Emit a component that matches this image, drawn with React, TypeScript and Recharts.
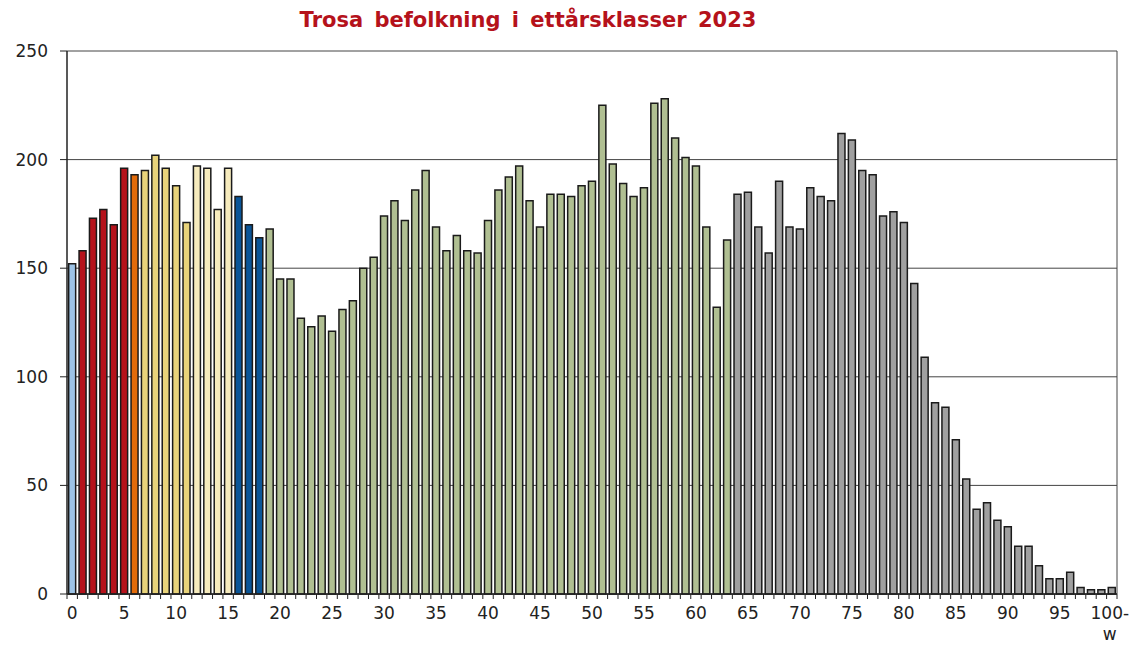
import { BarChart, Bar, Cell, XAxis, YAxis, CartesianGrid } from "recharts";

// Befolkning per ettårsklass, 0 .. 100-w
const population = [
  152, 158, 173, 177, 170, 196, 193, 195, 202, 196,
  188, 171, 197, 196, 177, 196, 183, 170, 164, 168,
  145, 145, 127, 123, 128, 121, 131, 135, 150, 155,
  174, 181, 172, 186, 195, 169, 158, 165, 158, 157,
  172, 186, 192, 197, 181, 169, 184, 184, 183, 188,
  190, 225, 198, 189, 183, 187, 226, 228, 210, 201,
  197, 169, 132, 163, 184, 185, 169, 157, 190, 169,
  168, 187, 183, 181, 212, 209, 195, 193, 174, 176,
  171, 143, 109, 88, 86, 71, 53, 39, 42, 34,
  31, 22, 22, 13, 7, 7, 10, 3, 2, 2,
  3,
];

const ages = population.map((_, i) => (i === 100 ? "100-w" : String(i)));

// åldersgrupper: [första ålder, sista ålder, färg]
const groups: [number, number, string][] = [
  [0, 0, "#9dc3e6"],
  [1, 5, "#b5121b"],
  [6, 6, "#e26b0a"],
  [7, 11, "#e8d37a"],
  [12, 15, "#f6ebbd"],
  [16, 18, "#0a5597"],
  [19, 63, "#b0bf92"],
  [64, 100, "#a0a0a0"],
];

const yTicks = [0, 50, 100, 150, 200, 250];

const data = ages.map((age, i) => ({ age, value: population[i] }));

const colorFor = (i: number) => {
  const g = groups.find(([a, b]) => i >= a && i <= b);
  return g ? g[2] : "#a0a0a0";
};

const W = 1133;
const H = 646;
const M = { top: 51, right: 16, bottom: 0, left: 0 };
const X_AXIS_H = 52;
const Y_AXIS_W = 67;
const BAND = (W - M.left - M.right - Y_AXIS_W) / data.length;

function AgeTick({ x, y, payload, index }: any) {
  const i = index as number;
  const half = BAND / 2;
  const label = payload.value as string;
  return (
    <g>
      <line x1={x - half} x2={x - half} y1={y - 8} y2={y - 3} stroke="#222" strokeWidth={1} />
      {i === data.length - 1 && (
        <line x1={x + half} x2={x + half} y1={y - 8} y2={y - 3} stroke="#222" strokeWidth={1} />
      )}
      {i % 5 === 0 && i !== 100 && (
        <text x={x} y={y + 17} textAnchor="middle" fontSize={17} fill="#222" fontFamily="DejaVu Sans">
          {label}
        </text>
      )}
      {i === 100 && (
        <text textAnchor="middle" fontSize={17} fill="#222" fontFamily="DejaVu Sans">
          <tspan x={x - 2} y={y + 17}>100-</tspan>
          <tspan x={x - 2} y={y + 38}>w</tspan>
        </text>
      )}
    </g>
  );
}

export default function App() {
  return (
    <div style={{ position: "absolute", left: 0, top: 0, width: W, height: H, background: "#fff" }}>
      <div
        style={{
          position: "absolute",
          top: 8,
          left: 0,
          width: 1056,
          textAlign: "center",
          fontFamily: "DejaVu Sans",
          fontWeight: "bold",
          fontSize: 21,
          wordSpacing: 4,
          color: "#b5121b",
        }}
      >
        Trosa befolkning i ettårsklasser 2023
      </div>
      <BarChart width={W} height={H} data={data} margin={M} barCategoryGap="16%">
        <CartesianGrid
          stroke="#444"
          strokeWidth={1}
          verticalCoordinatesGenerator={({ offset }: any) => [offset.left + offset.width]}
        />
        <XAxis
          dataKey="age"
          interval={0}
          tickLine={false}
          axisLine={{ stroke: "#222", strokeWidth: 1.5 }}
          tick={<AgeTick />}
          height={X_AXIS_H}
        />
        <YAxis
          domain={[0, 250]}
          ticks={yTicks}
          width={Y_AXIS_W}
          tickSize={7}
          tickMargin={12}
          axisLine={{ stroke: "#222", strokeWidth: 1.5 }}
          tickLine={{ stroke: "#222" }}
          tick={{ fontSize: 17, fill: "#222", fontFamily: "DejaVu Sans" }}
        />
        <Bar dataKey="value" stroke="#1a1a1a" strokeWidth={1.5} isAnimationActive={false}>
          {data.map((_, i) => (
            <Cell key={i} fill={colorFor(i)} />
          ))}
        </Bar>
      </BarChart>
    </div>
  );
}
